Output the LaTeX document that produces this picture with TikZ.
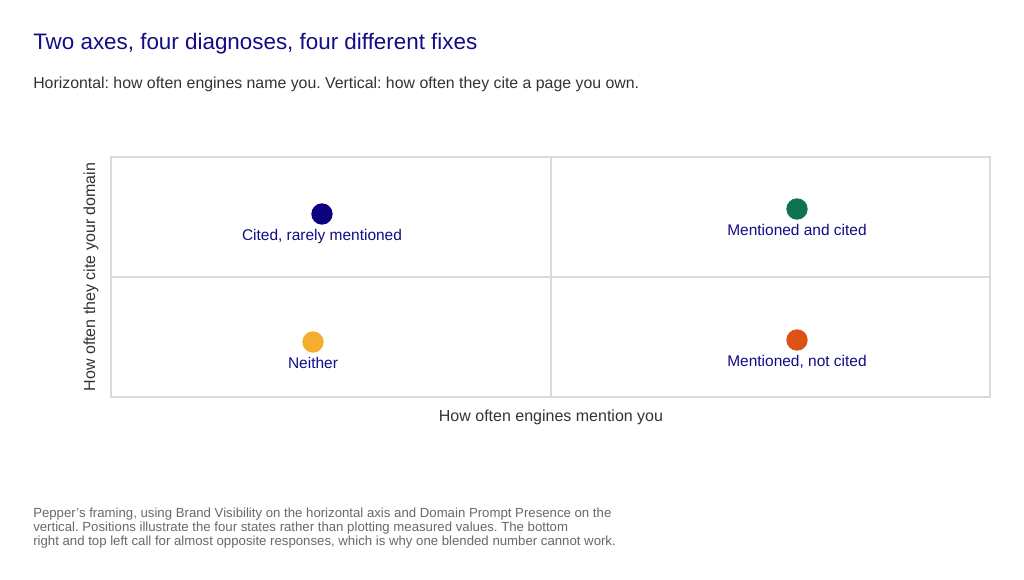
\documentclass[tikz,border=0pt]{standalone}
\usepackage{fontspec}
\setmainfont{Liberation Sans}
\frenchspacing
\definecolor{navy}{RGB}{18,12,135}
\definecolor{dotnavy}{RGB}{12,2,128}
\definecolor{dotgreen}{RGB}{14,115,82}
\definecolor{dotyellow}{RGB}{245,173,46}
\definecolor{dotorange}{RGB}{220,82,20}
\definecolor{gridgray}{RGB}{218,218,218}
\definecolor{subgray}{RGB}{51,51,51}
\definecolor{footgray}{RGB}{105,105,105}
\tikzset{
  px/.style={x=0.75pt,y=-0.75pt},
  dot/.style={circle,inner sep=0pt,minimum size=16pt},
  qlabel/.style={text=navy,font=\fontsize{11.6pt}{13pt}\selectfont,anchor=base,inner sep=0pt},
  axislabel/.style={text=subgray,font=\fontsize{12pt}{14pt}\selectfont,inner sep=0pt},
  footline/.style={anchor=base west,inner sep=0pt,text=footgray,font=\fontsize{9.9pt}{11pt}\selectfont},
}
\begin{document}
\begin{tikzpicture}[px]
\useasboundingbox[fill=white] (0,0) rectangle (1024,580);
\node[anchor=base west,inner sep=0pt,text=navy,font=\fontsize{16.8pt}{19pt}\selectfont] (title) at (33,50) {Two axes, four diagnoses, four different fixes};
\node[anchor=base west,inner sep=0pt,text=subgray,font=\fontsize{11.9pt}{14pt}\selectfont] (sub) at (33,89) {Horizontal: how often engines name you. Vertical: how often they cite a page you own.};
% plot frame
\draw[gridgray,line width=1pt] (111,157) rectangle (990,397);
\coordinate (vt) at (551,157);
\coordinate (vb) at (551,397);
\coordinate (hl) at (111,277);
\coordinate (hr) at (990,277);
\draw[gridgray,line width=1pt] (vt) -- (vb);
\draw[gridgray,line width=1pt] (hl) -- (hr);
% dots
\node[dot,fill=dotnavy] (d1) at (322,214) {};
\node[dot,fill=dotgreen] (d2) at (797,209) {};
\node[dot,fill=dotyellow] (d3) at (313,342) {};
\node[dot,fill=dotorange] (d4) at (797,340) {};
\node[qlabel] (l1) at (322,240.5) {Cited, rarely mentioned};
\node[qlabel] (l2) at (797,235.5) {Mentioned and cited};
\node[qlabel] (l3) at (313,368.5) {Neither};
\node[qlabel] (l4) at (797,366.5) {Mentioned, not cited};
% axis labels
\node[axislabel,anchor=base] (xl) at (551,421.5) {How often engines mention you};
\node[axislabel,rotate=90,anchor=base] (yl) at (95,277) {How often they cite your domain};
% footnote
\node[footline] (f1) at (33,517) {Pepper\symbol{39}s framing, using Brand Visibility on the horizontal axis and Domain Prompt Presence on the};
\node[footline] (f2) at (33,531) {vertical. Positions illustrate the four states rather than plotting measured values. The bottom};
\node[footline] (f3) at (33,545) {right and top left call for almost opposite responses, which is why one blended number cannot work.};
\end{tikzpicture}
\end{document}
